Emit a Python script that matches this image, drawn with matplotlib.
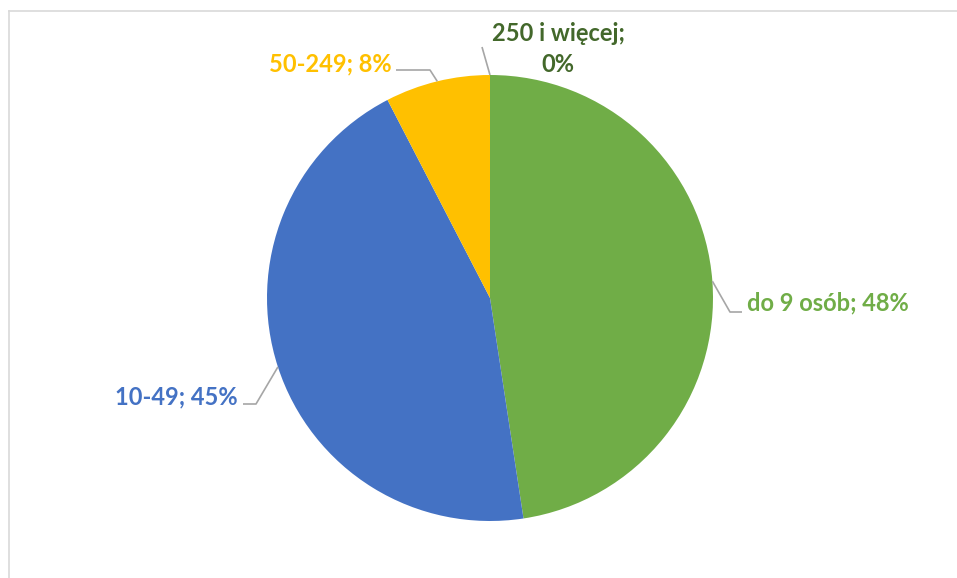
import numpy as np
import matplotlib.pyplot as plt
from matplotlib.lines import Line2D

labels = ['do 9 osób', '10-49', '50-249', '250 i więcej']
shares = [47.6, 44.8, 7.6, 0.0]
pct_text = ['48%', '45%', '8%', '0%']
colors = ['#70AD47', '#4472C4', '#FFC000', '#3E6B22']
label_colors = ['#70AD47', '#4472C4', '#FFC000', '#43682B']

plt.rcParams['font.family'] = ['Lato', 'DejaVu Sans']

W, H = 957, 578
fig = plt.figure(figsize=(W / 100, H / 100), dpi=100)
ax = fig.add_axes([0, 0, 1, 1])

cx, cy, r = 490, H - 298, 223
wedges, _ = ax.pie(shares, colors=colors, startangle=90, counterclock=False,
                   center=(cx, cy), radius=r, frame=True,
                   wedgeprops=dict(linewidth=0))
ax.set_xlim(0, W)
ax.set_ylim(0, H)
ax.set_aspect('equal')
ax.axis('off')

# chart area border (top and left only visible)
fig.add_artist(Line2D([9 / W, 1], [1 - 11 / H, 1 - 11 / H], color='#D9D9D9', lw=1.2))
fig.add_artist(Line2D([9 / W, 9 / W], [0, 1 - 11 / H], color='#D9D9D9', lw=1.2))

def mid_point(w):
    ang = np.deg2rad((w.theta1 + w.theta2) / 2)
    return cx + r * np.cos(ang), cy + r * np.sin(ang)

# label placement: (text x, text y, ha, elbow, tail)
place = [
    (747, H - 303, 'left', (730, H - 312), (742, H - 312)),
    (238, H - 397, 'right', (256, H - 404), (243, H - 404)),
    (392, H - 64, 'right', (430, H - 70), (396, H - 70)),
    (558, H - 49, 'center', None, (482, H - 47)),
]

for i, (w, lab, pct) in enumerate(zip(wedges, labels, pct_text)):
    tx, ty, ha, elbow, tail = place[i]
    px, py = mid_point(w)
    pts = [(px, py)] + ([elbow] if elbow else []) + [tail]
    xs, ys = zip(*pts)
    ax.plot(xs, ys, color='#A6A6A6', lw=1.2, solid_capstyle='butt')
    if i == 3:
        ax.text(tx, ty, f'{lab};\n{pct}', ha='center', va='center', fontsize=17,
                fontweight='bold', color=label_colors[i], linespacing=1.4)
    else:
        ax.text(tx, ty, f'{lab}; {pct}', ha=ha, va='center', fontsize=17,
                fontweight='bold', color=label_colors[i])

fig.savefig('out.png', dpi=100)
